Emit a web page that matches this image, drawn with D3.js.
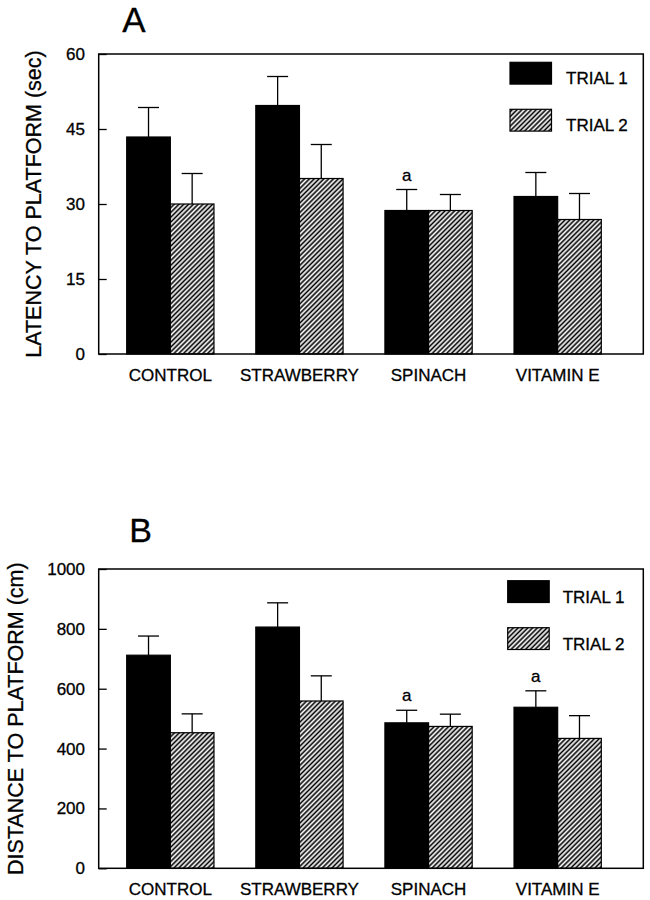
<!DOCTYPE html>
<html>
<head>
<meta charset="utf-8">
<script src="https://cdn.jsdelivr.net/npm/d3@7"></script>
<style>
  html, body { margin: 0; padding: 0; background: #fff; }
  svg { display: block; font-family: "Liberation Sans", Arial, Helvetica, sans-serif; }
  svg text { stroke: #000; stroke-width: 0.3px; }
</style>
</head>
<body>
<svg id="chart" width="650" height="900"></svg>
<script>
// ---------- data ----------
const categories = ["CONTROL", "STRAWBERRY", "SPINACH", "VITAMIN E"];
const seriesNames = ["TRIAL 1", "TRIAL 2"];

const latencyTrial1 = [43.4, 49.7, 28.7, 31.5];
const latencyTrial1Err = [5.9, 5.8, 4.2, 4.8];
const latencyTrial2 = [30.0, 35.1, 28.7, 26.9];
const latencyTrial2Err = [6.1, 6.8, 3.2, 5.2];
const latencyMarks = ["", "", "a", ""];
const latencyTicks = [0, 15, 30, 45, 60];

const distanceTrial1 = [712, 806, 486, 538];
const distanceTrial1Err = [64, 81, 42, 55];
const distanceTrial2 = [453, 559, 474, 434];
const distanceTrial2Err = [63, 84, 41, 76];
const distanceMarks = ["", "", "a", "a"];
const distanceTicks = [0, 200, 400, 600, 800, 1000];

// ---------- layout ----------
const svg = d3.select("#chart");
const defs = svg.append("defs");
const pat = defs.append("pattern")
  .attr("id", "hatch")
  .attr("patternUnits", "userSpaceOnUse")
  .attr("width", 3.4).attr("height", 3.4)
  .attr("patternTransform", "rotate(45)");
pat.append("rect").attr("width", 3.4).attr("height", 3.4).attr("fill", "#fff");
pat.append("line").attr("x1", 1.2).attr("y1", 0).attr("x2", 1.2).attr("y2", 3.4)
  .attr("stroke", "#000").attr("stroke-width", 1.65);

const left = 98.7, right = 643.3;

const panels = [
  {
    letter: "A", letterX: 134, letterY: 32, letterSize: 35,
    top: 54, bottom: 354,
    ylabel: "LATENCY TO PLATFORM (sec)", ylabelX: 34,
    t1: latencyTrial1, e1: latencyTrial1Err, t2: latencyTrial2, e2: latencyTrial2Err,
    marks: latencyMarks, ticks: latencyTicks,
    legendX: 510, legendY: 62.3, legendTextX: 566, catPad: 15
  },
  {
    letter: "B", letterX: 140.5, letterY: 542, letterSize: 34,
    top: 569, bottom: 868.3,
    ylabel: "DISTANCE TO PLATFORM (cm)", ylabelX: 16,
    t1: distanceTrial1, e1: distanceTrial1Err, t2: distanceTrial2, e2: distanceTrial2Err,
    marks: distanceMarks, ticks: distanceTicks,
    legendX: 507.7, legendY: 580.7, legendTextX: 562.7, catPad: 14.7
  }
];

const x0 = d3.scaleBand().domain(categories).range([126.7, 601.3]).paddingInner(0.324).paddingOuter(0);
const x1 = d3.scaleBand().domain(seriesNames).range([0, x0.bandwidth()]).padding(0);

panels.forEach(p => {
  const g = svg.append("g");
  const ticks = p.ticks;
  const y = d3.scaleLinear().domain([ticks[0], ticks[ticks.length - 1]]).range([p.bottom, p.top]);

  // panel letter
  g.append("text").attr("x", p.letterX).attr("y", p.letterY)
    .attr("text-anchor", "middle").attr("font-size", p.letterSize)
    .text(p.letter);

  // y-axis label
  g.append("text")
    .attr("transform", `translate(${p.ylabelX},${(p.top + p.bottom) / 2}) rotate(-90)`)
    .attr("text-anchor", "middle").attr("dominant-baseline", "central")
    .attr("font-size", 21.5)
    .text(p.ylabel);

  // data rows
  const rows = categories.map((c, i) => ({
    cat: c,
    vals: [
      { s: seriesNames[0], v: p.t1[i], e: p.e1[i], m: p.marks[i] },
      { s: seriesNames[1], v: p.t2[i], e: p.e2[i], m: "" }
    ]
  }));

  const grp = g.selectAll(".grp").data(rows).enter().append("g")
    .attr("transform", d => `translate(${x0(d.cat)},0)`);

  const item = grp.selectAll(".item").data(d => d.vals).enter().append("g");

  // error bars
  item.append("line")
    .attr("x1", d => x1(d.s) + x1.bandwidth() / 2)
    .attr("x2", d => x1(d.s) + x1.bandwidth() / 2)
    .attr("y1", d => y(d.v)).attr("y2", d => y(d.v + d.e))
    .attr("stroke", "#000").attr("stroke-width", 1.3);
  item.append("line")
    .attr("x1", d => x1(d.s) + x1.bandwidth() / 2 - 10.5)
    .attr("x2", d => x1(d.s) + x1.bandwidth() / 2 + 10.5)
    .attr("y1", d => y(d.v + d.e)).attr("y2", d => y(d.v + d.e))
    .attr("stroke", "#000").attr("stroke-width", 1.3);

  item.append("rect")
    .attr("x", d => x1(d.s))
    .attr("y", d => y(d.v))
    .attr("width", x1.bandwidth())
    .attr("height", d => y(0) - y(d.v))
    .attr("fill", d => d.s === seriesNames[0] ? "#000" : "url(#hatch)")
    .attr("stroke", "#000").attr("stroke-width", 1.2);

  item.filter(d => d.m).append("text")
    .attr("x", d => x1(d.s) + x1.bandwidth() / 2)
    .attr("y", d => y(d.v + d.e) - 9)
    .attr("text-anchor", "middle").attr("font-size", 17)
    .text(d => d.m);

  // frame
  g.append("rect").attr("x", left).attr("y", p.top)
    .attr("width", right - left).attr("height", p.bottom - p.top)
    .attr("fill", "none").attr("stroke", "#000").attr("stroke-width", 1.5);

  // y axis
  const ya = g.append("g").attr("transform", `translate(${left},0)`)
    .call(d3.axisLeft(y).tickValues(ticks).tickFormat(d3.format("d"))
      .tickSizeInner(-8).tickSizeOuter(0).tickPadding(13.7));
  ya.select(".domain").remove();
  ya.selectAll(".tick line").attr("stroke", "#000").attr("stroke-width", 1.3);
  ya.selectAll(".tick text").attr("font-size", 17).attr("fill", "#000")
    .attr("font-family", "'Liberation Sans', Arial, sans-serif");

  // x axis (category labels)
  const xa = g.append("g").attr("transform", `translate(0,${p.bottom})`)
    .call(d3.axisBottom(x0).tickSize(0).tickPadding(p.catPad));
  xa.select(".domain").remove();
  xa.selectAll(".tick text").attr("font-size", 17).attr("fill", "#000")
    .attr("font-family", "'Liberation Sans', Arial, sans-serif");

  // legend
  const lg = g.append("g");
  seriesNames.forEach((s, i) => {
    const ly = p.legendY + i * 47;
    lg.append("rect").attr("x", p.legendX).attr("y", ly)
      .attr("width", 41.5).attr("height", 21.8)
      .attr("fill", i === 0 ? "#000" : "url(#hatch)")
      .attr("stroke", "#000").attr("stroke-width", 1.2);
    lg.append("text").attr("x", p.legendTextX).attr("y", ly + 21.8)
      .attr("font-size", 17).text(s);
  });
});
</script>
</body>
</html>
